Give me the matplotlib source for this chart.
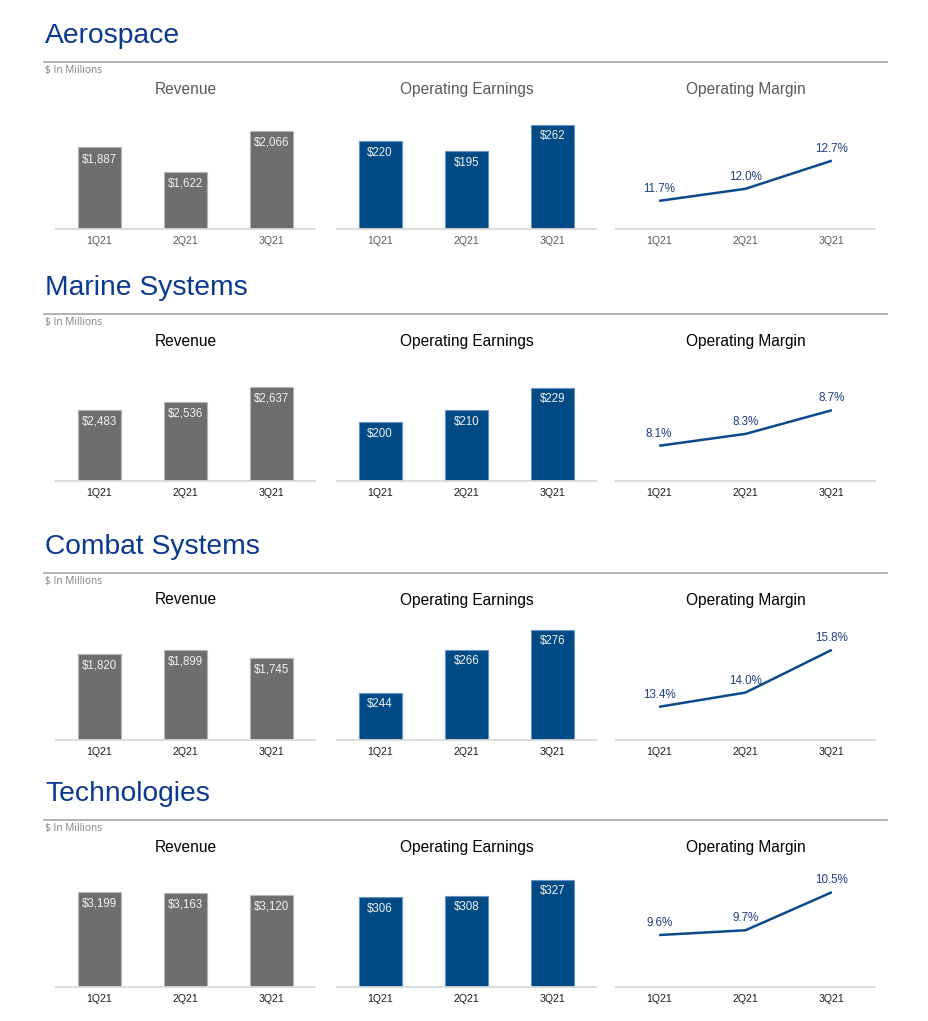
import matplotlib
matplotlib.use("Agg")
from matplotlib import pyplot as plt

plt.rcParams['font.family'] = ['Liberation Sans', 'DejaVu Sans']

# data
quarters = ["1Q21", "2Q21", "3Q21"]
segments = ["Aerospace", "Marine Systems", "Combat Systems", "Technologies"]
revenue = [[1887, 1622, 2066],
           [2483, 2536, 2637],
           [1820, 1899, 1745],
           [3199, 3163, 3120]]
op_earnings = [[220, 195, 262],
               [200, 210, 229],
               [244, 266, 276],
               [306, 308, 327]]
op_margin = [[11.7, 12.0, 12.7],
             [8.1, 8.3, 8.7],
             [13.4, 14.0, 15.8],
             [9.6, 9.7, 10.5]]

# axis ranges of the original slides (not zero based everywhere)
rev_ylim = [(1000, 2360), (2000, 2842), (0, 2646), (0, 4209)]
oe_ylim = [(0, 313.7), (150, 255.4), (220, 283.6), (200, 347.4)]
om_ylim = [(11, 14.11), (7.5, 9.61), (12, 17.27), (8.5, 11.13)]

W, H = 929, 1021
fig = plt.figure(figsize=(W / 100, H / 100), dpi=100)

baselines = [229, 481.3, 740, 987.3]
AH = 125
panel_x = [(56, 259), (337, 259), (616, 259)]

GREY = "#6E6E6E"
BLUE = "#004A86"
TITLE_BLUE = "#0A3A8F"


def fx(x):
    return x / W


def fy(y):
    return 1 - y / H


def make_ax(col, base, ylim, tick_color):
    x0, w = panel_x[col]
    ax = fig.add_axes([fx(x0), fy(base), w / W, AH / H])
    ax.set_xlim(-0.5, 2.5)
    ax.set_ylim(*ylim)
    for s in ["top", "left", "right"]:
        ax.spines[s].set_visible(False)
    ax.spines["bottom"].set_color("#D9D9D9")
    ax.spines["bottom"].set_linewidth(1.3)
    ax.set_yticks([])
    ax.set_xticks(range(3))
    ax.set_xticklabels(quarters, fontsize=7.6, color=tick_color)
    ax.tick_params(axis="x", length=0, pad=5)
    ax.patch.set_alpha(0)
    return ax


for r, seg in enumerate(segments):
    base = baselines[r]
    sub_color = "#595959" if r == 0 else "#000000"
    tick_color = "#595959" if r == 0 else "#1A1A1A"

    fig.text(fx(45), fy(base - 193), seg, fontsize=20.3, color=TITLE_BLUE,
             ha="left", va="center")
    fig.add_artist(plt.Line2D([fx(44), fx(887)], [fy(base - 167), fy(base - 167)],
                              color="#A6A6A6", lw=1.2))
    fig.text(fx(45), fy(base - 158.5), "$ In Millions", fontsize=7.3,
             color="#7F7F7F", ha="left", va="center", family="Open Sans")

    titles = ["Revenue", "Operating Earnings", "Operating Margin"]
    for c, t in enumerate(titles):
        x0, w = panel_x[c]
        fig.text(fx(x0 + w / 2), fy(base - 140), t, fontsize=11.2,
                 color=sub_color, ha="center", va="center")

    # revenue
    ax = make_ax(0, base, rev_ylim[r], tick_color)
    ax.bar(range(3), revenue[r], width=0.5, bottom=0, color=GREY,
           edgecolor="#B5B5B5", linewidth=0.8)
    for i, v in enumerate(revenue[r]):
        ax.annotate(f"${v:,}", xy=(i, v), xytext=(0, -8.3),
                    textcoords="offset points", ha="center", va="center",
                    fontsize=8.3, color="#F2F2F2")

    # operating earnings
    ax = make_ax(1, base, oe_ylim[r], tick_color)
    ax.bar(range(3), op_earnings[r], width=0.5, color=BLUE,
           edgecolor="#6A93C2", linewidth=0.8)
    for i, v in enumerate(op_earnings[r]):
        ax.annotate(f"${v:,}", xy=(i, v), xytext=(0, -8.3),
                    textcoords="offset points", ha="center", va="center",
                    fontsize=8.3, color="#F2F2F2")

    # operating margin
    ax = make_ax(2, base, om_ylim[r], tick_color)
    ax.plot(range(3), op_margin[r], color="#0B4A8A", lw=1.8,
            solid_capstyle="butt")
    for i, v in enumerate(op_margin[r]):
        ax.annotate(f"{v:.1f}%", xy=(i, v), xytext=(0, 8.6),
                    textcoords="offset points", ha="center", va="center",
                    fontsize=8.4, color="#1F3F80")

fig.savefig("out.png", dpi=100)
plt.close(fig)
